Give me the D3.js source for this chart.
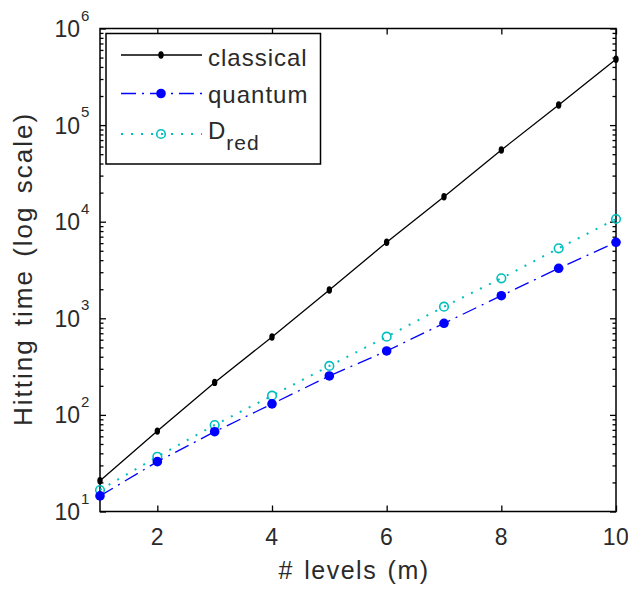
<!DOCTYPE html>
<meta charset="utf-8">
<script src="https://d3js.org/d3.v7.min.js"></script>
<style>
  body { margin: 0; background: #fff; }
  text { font-family: "Liberation Sans", Arial, sans-serif; fill: #2a2a2a; }
</style>
<div id="chart"></div>
<script>
// data
const levels = [1, 2, 3, 4, 5, 6, 7, 8, 9, 10];
const classical = [20.8, 68, 217, 640, 1963, 6120, 18150, 55200, 161500, 479700];
const quantum = [14.5, 32.8, 67, 130, 253, 459, 888, 1714, 3294, 6120];
const dred = [16.7, 36.9, 78.6, 158, 321, 645, 1318, 2594, 5305, 10660];
const xTicks = [2, 4, 6, 8, 10];
const yTickExps = [1, 2, 3, 4, 5, 6];

const W = 628, H = 589;
const margin = { top: 28.5, right: 12, bottom: 77.5, left: 100 };
const width = W - margin.left - margin.right,
      height = H - margin.top - margin.bottom;

const svg = d3.select("#chart").append("svg")
    .attr("width", W).attr("height", H);
const g = svg.append("g")
    .attr("transform", `translate(${margin.left},${margin.top})`);

const x = d3.scaleLinear().domain([1, 10]).range([0, width]);
const y = d3.scaleLog().domain([10, 1e6]).range([height, 0]);

// box
g.append("rect")
    .attr("width", width).attr("height", height)
    .attr("fill", "none").attr("stroke", "#000").attr("stroke-width", 1.5);

// ticks (pointing in), bottom + top
const bottomAxis = g.append("g").attr("transform", `translate(0,${height})`)
    .call(d3.axisBottom(x).tickValues(xTicks).tickSize(-6).tickFormat(""));
const topAxis = g.append("g")
    .call(d3.axisTop(x).tickValues(xTicks).tickSize(-6).tickFormat(""));

const minor = y.ticks().filter(v => Math.abs(Math.log10(v) - Math.round(Math.log10(v))) > 1e-6);
const major = yTickExps.map(e => Math.pow(10, e));
const leftMinor = g.append("g")
    .call(d3.axisLeft(y).tickValues(minor).tickSize(-3.5).tickFormat(""));
const leftMajor = g.append("g")
    .call(d3.axisLeft(y).tickValues(major).tickSize(-6).tickFormat(""));
const rightMinor = g.append("g").attr("transform", `translate(${width},0)`)
    .call(d3.axisRight(y).tickValues(minor).tickSize(-3.5).tickFormat(""));
const rightMajor = g.append("g").attr("transform", `translate(${width},0)`)
    .call(d3.axisRight(y).tickValues(major).tickSize(-6).tickFormat(""));

[bottomAxis, topAxis, leftMinor, leftMajor, rightMinor, rightMajor].forEach(a => {
  a.select(".domain").remove();
  a.selectAll("line").attr("stroke", "#000").attr("stroke-width", 1.3);
});

// x tick labels
g.selectAll(".xlab").data(xTicks).join("text")
    .attr("x", d => x(d)).attr("y", height + 33)
    .attr("text-anchor", "middle")
    .style("font-size", "23px").style("letter-spacing", "0.5px")
    .text(d => d);

// y tick labels 10^k
g.selectAll(".ylab").data(yTickExps).join("text")
    .attr("x", -20).attr("y", d => y(Math.pow(10, d)) + 8.5)
    .attr("text-anchor", "end")
    .style("font-size", "23px")
    .text("10");
g.selectAll(".yexp").data(yTickExps).join("text")
    .attr("x", -19).attr("y", d => y(Math.pow(10, d)) - 8)
    .style("font-size", "15px")
    .text(d => d);

// axis titles
g.append("text")
    .attr("x", width / 2 - 4).attr("y", height + 67)
    .attr("text-anchor", "middle")
    .style("font-size", "25px").style("letter-spacing", "1.5px").style("word-spacing", "2px")
    .text("# levels (m)");
g.append("text")
    .attr("transform", `translate(${32 - margin.left},${height / 2 - 1}) rotate(-90)`)
    .attr("text-anchor", "middle")
    .style("font-size", "26px").style("letter-spacing", "2px").style("word-spacing", "3px")
    .text("Hitting time (log scale)");

// series
const series = [
  { name: "classical", values: classical, color: "#000", dash: null, marker: "dot" },
  { name: "quantum", values: quantum, color: "#0000ff", dash: "15,6,2,6", marker: "filled" },
  { name: "dred", values: dred, color: "#00bfbf", dash: "2,8", marker: "open" }
];

const line = d3.line().x((d, i) => x(levels[i])).y(d => y(d));

function drawMarker(sel, s) {
  if (s.marker === "dot") {
    sel.append("ellipse").attr("rx", 2.7).attr("ry", 3.7).attr("fill", s.color);
  } else if (s.marker === "filled") {
    sel.append("circle").attr("r", 4.8).attr("fill", s.color);
  } else {
    sel.append("circle").attr("r", 4.3).attr("fill", "none")
        .attr("stroke", s.color).attr("stroke-width", 1.6);
  }
}

series.slice().reverse().forEach(s => {
  g.append("path").datum(s.values)
      .attr("d", line)
      .attr("fill", "none")
      .attr("stroke", s.color)
      .attr("stroke-width", s.marker === "open" ? 2 : 1.3)
      .attr("stroke-dasharray", s.dash);
  g.selectAll(null).data(s.values).join("g")
      .attr("transform", (d, i) => `translate(${x(levels[i])},${y(d)})`)
      .each(function () { drawMarker(d3.select(this), s); });
});

// legend
const legend = svg.append("g");
legend.append("rect")
    .attr("x", 106).attr("y", 33.5).attr("width", 214.5).attr("height", 130.5)
    .attr("fill", "#fff").attr("stroke", "#000").attr("stroke-width", 1.5);
const legY = [55, 93.5, 134];
series.forEach((s, i) => {
  legend.append("line")
      .attr("x1", 121).attr("x2", 202).attr("y1", legY[i]).attr("y2", legY[i])
      .attr("stroke", s.color)
      .attr("stroke-width", s.marker === "open" ? 2 : 1.3)
      .attr("stroke-dasharray", s.dash);
  const m = legend.append("g").attr("transform", `translate(161,${legY[i]})`);
  drawMarker(m, s);
});
legend.append("text").attr("x", 208).attr("y", 65.5)
    .style("font-size", "24px").style("letter-spacing", "1px").text("classical");
legend.append("text").attr("x", 208).attr("y", 102.5)
    .style("font-size", "24px").style("letter-spacing", "1px").text("quantum");
const dt = legend.append("text").attr("x", 208).attr("y", 138.5)
    .style("font-size", "24px").style("letter-spacing", "1px");
dt.append("tspan").text("D");
dt.append("tspan").attr("dy", 11).style("font-size", "21px").text("red");
</script>
